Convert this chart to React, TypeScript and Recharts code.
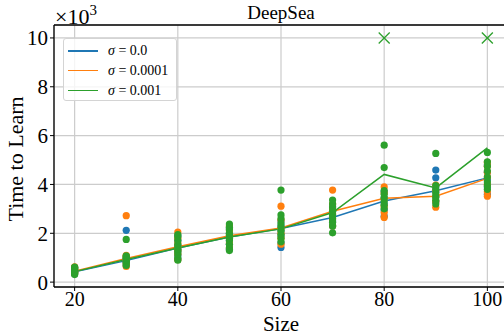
import React from 'react'
import {
  CartesianGrid,
  ComposedChart,
  Line,
  ReferenceLine,
  Scatter,
  XAxis,
  YAxis,
} from 'recharts'

// problem sizes on the x axis
const sizes = [20, 30, 40, 50, 60, 70, 80, 90, 100]

// time to learn per seed (x10^3), one list per size
const blueRuns = [
  [0.33, 0.38, 0.42, 0.45, 0.5, 0.55, 0.6],
  [0.7, 0.8, 0.85, 0.9, 0.95, 1.0, 2.12],
  [0.95, 1.1, 1.25, 1.35, 1.5, 1.7, 1.9],
  [1.35, 1.55, 1.7, 1.85, 2.0, 2.2],
  [1.42, 1.6, 1.9, 2.1, 2.3, 2.5],
  [2.3, 2.5, 2.7, 2.9, 3.1],
  [2.7, 2.95, 3.2, 3.45, 3.7],
  [3.3, 3.5, 3.7, 3.9, 4.27, 4.59],
  [3.6, 3.9, 4.2, 4.5, 4.8],
]
const orangeRuns = [
  [0.35, 0.4, 0.44, 0.5, 0.56, 0.63],
  [0.64, 0.75, 0.88, 0.95, 1.05, 1.1, 2.72],
  [0.92, 1.15, 1.3, 1.45, 1.6, 1.8, 2.05],
  [1.4, 1.6, 1.8, 1.95, 2.1, 2.3],
  [1.55, 1.8, 2.0, 2.2, 2.54, 3.11],
  [2.3, 2.6, 2.8, 3.0, 3.2, 3.77],
  [2.65, 2.85, 3.1, 3.4, 3.65, 3.9],
  [3.07, 3.3, 3.5, 3.75, 3.97],
  [3.52, 3.7, 4.0, 4.3, 4.5, 4.75, 4.9],
]
const greenRuns = [
  [0.31, 0.36, 0.4, 0.43, 0.47, 0.52, 0.58, 0.61],
  [0.68, 0.78, 0.84, 0.9, 0.98, 1.05, 1.08, 1.75],
  [0.9, 1.0, 1.15, 1.25, 1.35, 1.45, 1.55, 1.7, 1.85, 1.95],
  [1.29, 1.4, 1.55, 1.7, 1.8, 1.9, 2.0, 2.15, 2.25, 2.38],
  [1.65, 1.8, 1.95, 2.1, 2.25, 2.4, 2.6, 2.75, 3.77],
  [2.02, 2.3, 2.45, 2.6, 2.75, 2.9, 3.05, 3.2, 3.36],
  [3.0, 3.15, 3.3, 3.45, 3.6, 3.75, 4.69, 5.61],
  [3.2, 3.35, 3.5, 3.65, 3.8, 3.95, 5.27],
  [3.8, 3.95, 4.1, 4.3, 4.55, 4.75, 4.93, 5.31],
]

// mean lines
const blueMean = [0.42, 0.88, 1.4, 1.85, 2.2, 2.65, 3.32, 3.74, 4.27]
const orangeMean = [0.45, 0.97, 1.45, 1.9, 2.22, 2.9, 3.43, 3.52, 4.25]
const greenMean = [0.43, 0.93, 1.4, 1.85, 2.18, 2.85, 4.41, 3.86, 5.5]

// runs that never learned (plotted as x at the cap)
const greenFailSizes = [80, 100]
const failValue = 10

const xTicks = [20, 40, 60, 80, 100]
const yTicks = [0, 2, 4, 6, 8, 10]
const sigmas = ['0.0', '0.0001', '0.001']
const colors = ['#1f77b4', '#ff7f0e', '#2ca02c']

const FONT = '"Liberation Serif", serif'

const toPoints = (runs: number[][]) =>
  runs.flatMap((vals, i) => vals.map((y) => ({ x: sizes[i], y })))
const toLine = (means: number[]) => means.map((y, i) => ({ x: sizes[i], y }))

const dot = (color: string) => (props: any) =>
  <circle cx={props.cx} cy={props.cy} r={3.6} fill={color} />

const cross = (props: any) => {
  const { cx, cy } = props
  const s = 5.5
  return (
    <g stroke="#2ca02c" strokeWidth={1.3}>
      <line x1={cx - s} y1={cy - s} x2={cx + s} y2={cy + s} />
      <line x1={cx - s} y1={cy + s} x2={cx + s} y2={cy - s} />
    </g>
  )
}

const LegendBox = () => (
  <div
    style={{
      position: 'absolute',
      left: 63,
      top: 38,
      width: 114,
      height: 63,
      boxSizing: 'border-box',
      border: '1px solid #d4d4d4',
      borderRadius: 3,
      background: 'rgba(255,255,255,0.8)',
      fontFamily: FONT,
      fontSize: 14,
    }}
  >
    {sigmas.map((s, i) => (
      <div key={s} style={{ position: 'absolute', left: 0, top: 2 + i * 19.8, height: 18 }}>
        <div
          style={{
            position: 'absolute',
            left: 4,
            top: 9,
            width: 30,
            height: 1.5,
            background: colors[i],
          }}
        />
        <div style={{ position: 'absolute', left: 44, top: 0, whiteSpace: 'nowrap', lineHeight: '19px' }}>
          <i>σ</i> = {s}
        </div>
      </div>
    ))}
  </div>
)

const App = () => {
  return (
    <div
      style={{
        position: 'absolute',
        left: 0,
        top: 0,
        width: 504,
        height: 335,
        overflow: 'hidden',
        background: '#fff',
      }}
    >
      <ComposedChart
        width={512}
        height={335}
        margin={{ top: 25, right: 4, bottom: 0, left: 0 }}
        style={{ fontFamily: FONT }}
      >
        <CartesianGrid stroke="#cccccc" strokeWidth={1.2} />
        <XAxis
          type="number"
          dataKey="x"
          domain={[16, 104]}
          allowDataOverflow
          ticks={xTicks}
          height={48}
          tickSize={4}
          tickMargin={1}
          tick={{ fill: '#000', fontSize: 20 }}
          axisLine={{ stroke: '#000', strokeWidth: 1.3 }}
          tickLine={{ stroke: '#000' }}
        />
        <YAxis
          type="number"
          dataKey="y"
          domain={[-0.2, 10.53]}
          allowDataOverflow
          ticks={yTicks}
          width={54}
          tickSize={4}
          tickMargin={2}
          tick={{ fill: '#000', fontSize: 21 }}
          axisLine={{ stroke: '#000', strokeWidth: 1.3 }}
          tickLine={{ stroke: '#000' }}
        />
        <ReferenceLine y={10.53} stroke="#000" strokeWidth={1.3} ifOverflow="visible" />
        <Scatter data={toPoints(blueRuns)} shape={dot(colors[0])} isAnimationActive={false} />
        <Scatter data={toPoints(orangeRuns)} shape={dot(colors[1])} isAnimationActive={false} />
        <Scatter data={toPoints(greenRuns)} shape={dot(colors[2])} isAnimationActive={false} />
        <Line data={toLine(blueMean)} dataKey="y" stroke={colors[0]} strokeWidth={1.5} dot={false} isAnimationActive={false} />
        <Line data={toLine(orangeMean)} dataKey="y" stroke={colors[1]} strokeWidth={1.5} dot={false} isAnimationActive={false} />
        <Line data={toLine(greenMean)} dataKey="y" stroke={colors[2]} strokeWidth={1.5} dot={false} isAnimationActive={false} />
        <Scatter
          data={greenFailSizes.map((x) => ({ x, y: failValue }))}
          shape={cross}
          isAnimationActive={false}
        />
      </ComposedChart>
      <LegendBox />
      <svg
        width={504}
        height={335}
        style={{ position: 'absolute', left: 0, top: 0, pointerEvents: 'none', fontFamily: FONT }}
      >
        <text x={281} y={19} textAnchor="middle" fontSize={19}>DeepSea</text>
        <text x={55} y={24} fontSize={22}>
          ×10<tspan dy={-9} fontSize={15}>3</tspan>
        </text>
        <text transform="translate(23,159) rotate(-90)" textAnchor="middle" fontSize={22}>
          Time to Learn
        </text>
        <text x={281} y={331} textAnchor="middle" fontSize={21}>Size</text>
      </svg>
    </div>
  )
}

export default App
